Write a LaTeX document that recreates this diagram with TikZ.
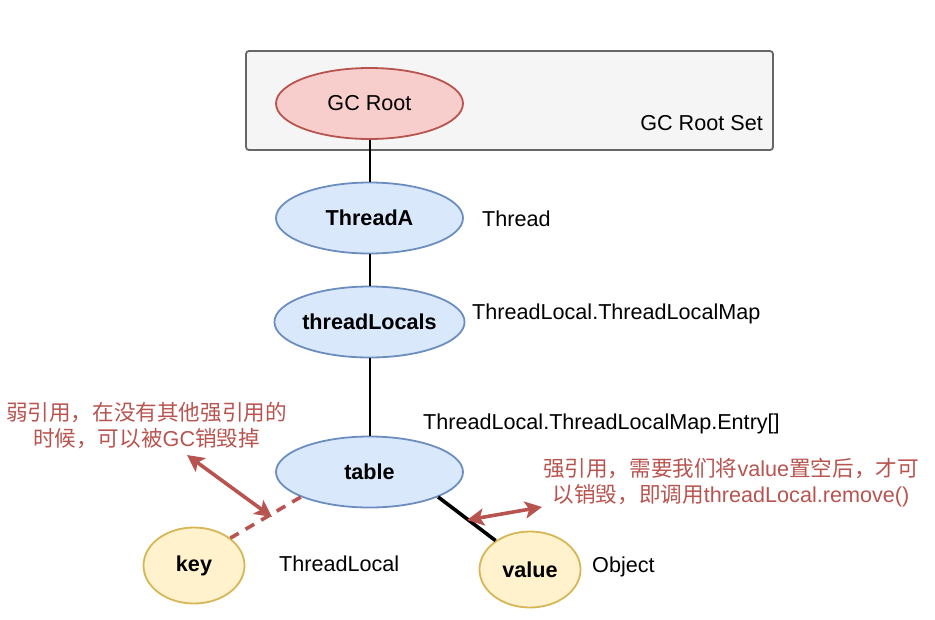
\documentclass[tikz,border=0pt]{standalone}
\usepackage{fontspec}
\setmainfont{Liberation Sans}
\newfontfamily\cjk{Noto Sans CJK SC}
\definecolor{rootred}{RGB}{248, 206, 204}
\definecolor{rootline}{RGB}{184, 84, 80}
\definecolor{thrblue}{RGB}{218, 232, 252}
\definecolor{thrline}{RGB}{108, 142, 191}
\definecolor{refyellow}{RGB}{255, 242, 204}
\definecolor{refline}{RGB}{214, 182, 86}
\definecolor{setgray}{RGB}{245, 245, 245}
\definecolor{setline}{RGB}{102, 102, 102}
\usetikzlibrary{shapes, arrows.meta, positioning}

\tikzset{
  objnode/.style={ellipse, line width=1.8pt, inner sep=0pt, minimum width=187pt, minimum height=71pt},
  smallobj/.style={ellipse, line width=1.8pt, inner sep=0pt, minimum width=101pt, minimum height=76pt},
  typelabel/.style={anchor=west, inner sep=0pt},
  note/.style={align=center, inner sep=0pt, text=rootline},
  refarrow/.style={draw=rootline, line width=3.6pt, {Stealth[length=17pt, width=17pt, inset=4pt]}-{Stealth[length=17pt, width=17pt, inset=4pt]}},
}

\begin{document}
\begin{tikzpicture}[x=1pt, y=-1pt, font=\fontsize{21.6}{26}\selectfont]
  \useasboundingbox (0,0) rectangle (935,619);

  \node[draw=setline, fill=setgray, line width=1.8pt, rounded corners=3pt, minimum width=527pt, minimum height=99pt, inner sep=0pt] (rootset) at (509.5,100.5) {};
  \node[typelabel, anchor=east] (rootsetlabel) at (763,123) {GC Root Set};

  \node[objnode, draw=rootline, fill=rootred] (gcroot) at (369.5,103.5) {GC Root};
  \node[objnode, draw=thrline, fill=thrblue] (threada) at (369.5,218) {\textbf{ThreadA}};
  \node[objnode, draw=thrline, fill=thrblue] (tlocals) at (369.5,322) {\textbf{threadLocals}};
  \node[objnode, draw=thrline, fill=thrblue] (table) at (369.5,472) {\textbf{table}};
  \node[smallobj, draw=refline, fill=refyellow] (key) at (194,565.5) {\textbf{key}};
  \node[smallobj, draw=refline, fill=refyellow] (value) at (530,569.5) {\textbf{value}};

  \node[typelabel] (threadtype) at (482,219) {Thread};
  \node[typelabel] (maptype) at (472,314) {ThreadLocal.ThreadLocalMap};
  \node[typelabel] (entrytype) at (423,424) {ThreadLocal.ThreadLocalMap.Entry[]};
  \node[typelabel] (keytype) at (279,564) {ThreadLocal};
  \node[typelabel] (valuetype) at (592,567) {Object};

  \draw[line width=2pt] (gcroot) -- (threada);
  \draw[line width=2pt] (threada) -- (tlocals);
  \draw[line width=2pt] (tlocals) -- (table);
  \draw[line width=3.6pt] (table.-20) -- (value.140);
  \draw[rootline, line width=3.6pt, dash pattern=on 10pt off 8pt] (table.200) -- (key.37);

  \node[note] (weaknote) at (146.5,426) {{\cjk 弱引用，在没有其他强引用的}\\{\cjk 时候，可以被}GC{\cjk 销毁掉}};
  \node[note] (strongnote) at (731,483) {{\cjk 强引用，需要我们将}value{\cjk 置空后，才可}\\{\cjk 以销毁，即调用}threadLocal.remove()};

  \coordinate (weaktop) at (187,455);
  \coordinate (weakend) at (272,517);
  \coordinate (strongleft) at (467,520);
  \coordinate (strongright) at (542,507);
  \draw[refarrow] (weaktop) -- (weakend);
  \draw[refarrow] (strongleft) -- (strongright);
\end{tikzpicture}
\end{document}
